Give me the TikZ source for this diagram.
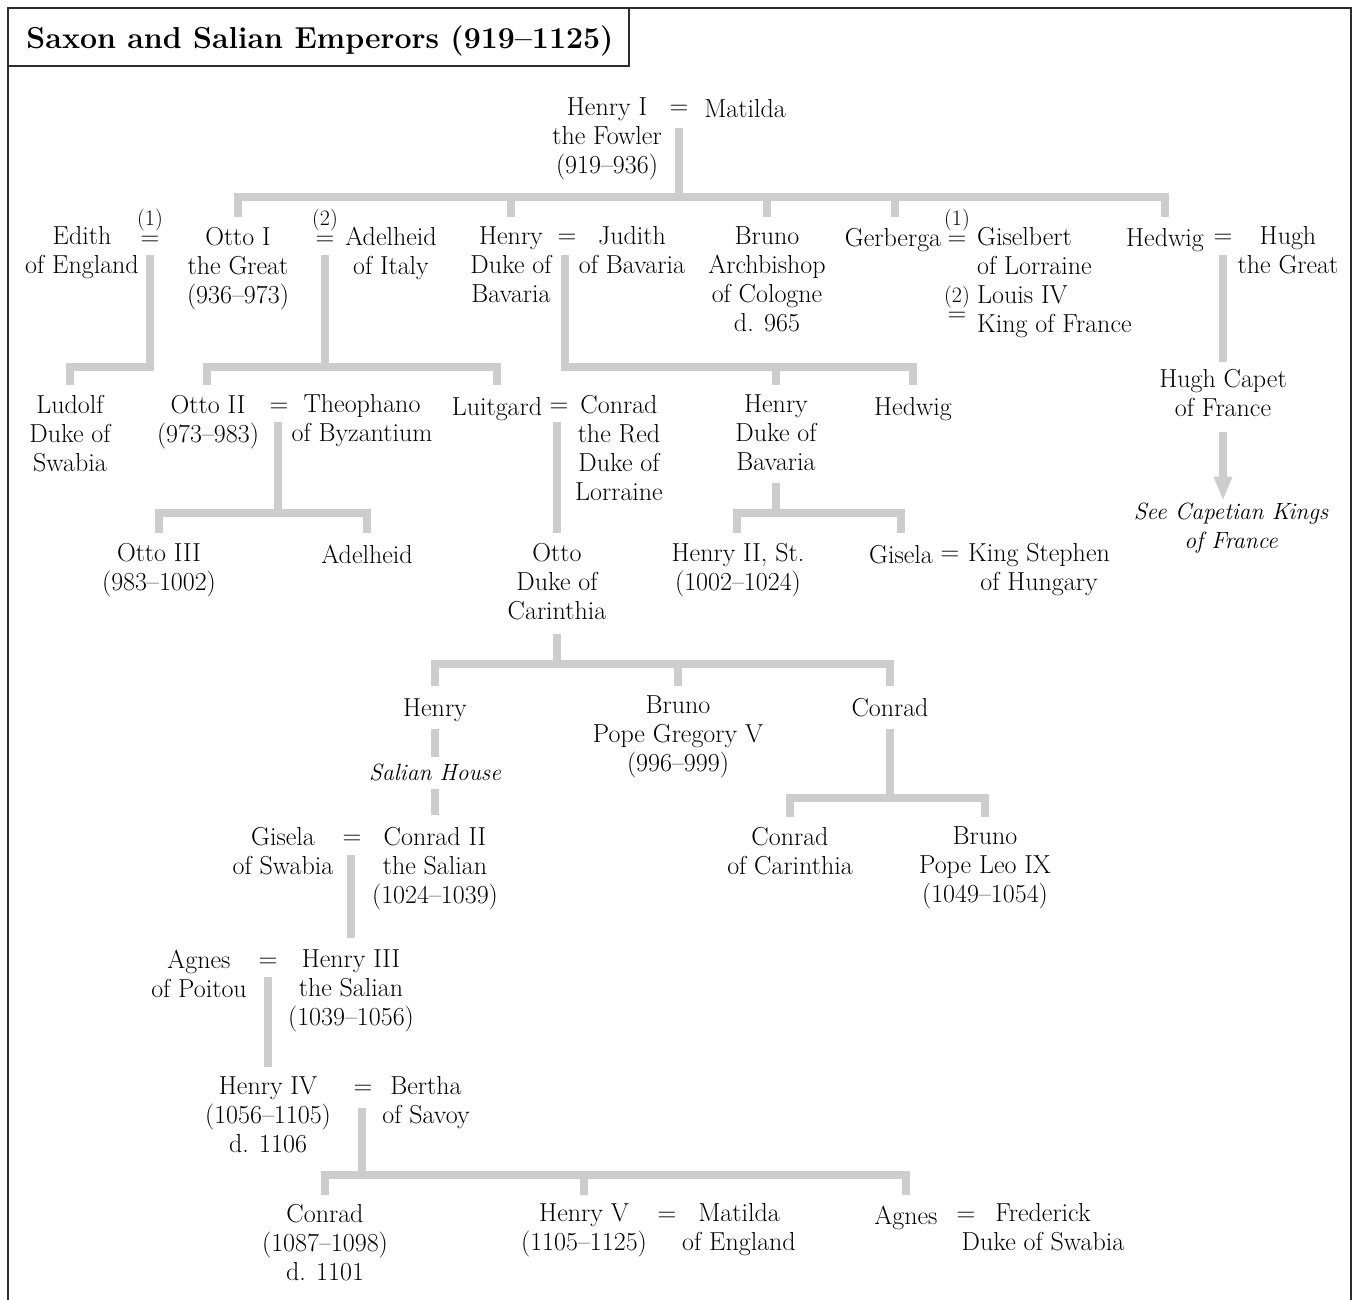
\documentclass[tikz,border=0pt]{standalone}
\usepackage{fontspec}
\usetikzlibrary{arrows.meta}
\definecolor{bargray}{RGB}{205,205,205}
\definecolor{framegray}{RGB}{45,45,45}
\begin{document}
\begin{tikzpicture}[x=1pt,y=-1pt,
  bar/.style={draw=bargray, line width=7.5pt},
  person/.style={anchor=north, inner sep=0pt, align=center, font=\fontsize{26}{29}\selectfont, execute at begin node=\strut, yshift=20.3pt},
  personL/.style={person, anchor=north west, align=left},
  single/.style={anchor=base, inner sep=0pt, font=\fontsize{26}{29}\selectfont, execute at begin node=\strut},
  ital/.style={font=\fontsize{23.5}{29}\selectfont\itshape},
  eqs/.style={anchor=base, inner sep=0pt, font=\fontsize{26}{29}\selectfont},
  num/.style={anchor=base, inner sep=0pt, font=\fontsize{22}{25}\selectfont},
  frame/.style={draw=framegray, line width=1.6pt},
]
\useasboundingbox (0,0) rectangle (1353,1300);
% frame and title
\draw[frame] (8,1300) -- (8,8) -- (1351,8) -- (1351,1300);
\draw[frame] (8,66) -- (629,66) -- (629,8);
\node[anchor=base, inner sep=0pt, font=\fontsize{30.3}{36}\selectfont\bfseries] (title) at (320,49) {Saxon and Salian Emperors (919–1125)};

% Row 1
\node[person] (henryI) at (607,118) {Henry I\\the Fowler\\(919–936)};
\node[eqs] (e1) at (679,115) {=};
\node[single] (matildaI) at (745,118) {Matilda};

% Row 2
\node[person] (edith) at (82,247) {Edith\\of England};
\node[num] (n1) at (150,226) {(1)};
\node[eqs] (e2) at (150,245.5) {=};
\node[person] (ottoI) at (238,247) {Otto I\\the Great\\(936–973)};
\node[num] (n2) at (325,226) {(2)};
\node[eqs] (e3) at (325,245.5) {=};
\node[person] (adelheid) at (391,247) {Adelheid\\of Italy};
\node[person] (henryB) at (511,247) {Henry\\Duke of\\Bavaria};
\node[eqs] (e4) at (567,244) {=};
\node[person] (judith) at (632,247) {Judith\\of Bavaria};
\node[person] (brunoA) at (767,247) {Bruno\\Archbishop\\of Cologne\\d. 965};
\node[single] (gerberga) at (893,247) {Gerberga};
\node[num] (n3) at (957,226) {(1)};
\node[eqs] (e5) at (957,245.5) {=};
\node[personL] (giselbert) at (977,247) {Giselbert\\of Lorraine};
\node[num] (n4) at (957,302) {(2)};
\node[eqs] (e6) at (957,321) {=};
\node[personL] (louis) at (977,306) {Louis IV\\King of France};
\node[single] (hedwigA) at (1165,247) {Hedwig};
\node[eqs] (e7) at (1223,244) {=};
\node[person] (hugh) at (1288,247) {Hugh\\the Great};
\node[person] (hughC) at (1223,389) {Hugh Capet\\of France};
\node[person, ital] (see) at (1231,523) {See Capetian Kings\\of France};

% Row 3
\node[person] (ludolf) at (70,415) {Ludolf\\Duke of\\Swabia};
\node[person] (ottoII) at (208,415) {Otto II\\(973–983)};
\node[eqs] (e8) at (279,412) {=};
\node[person] (theophano) at (362,415) {Theophano\\of Byzantium};
\node[single] (luitgard) at (497,415) {Luitgard};
\node[eqs] (e9) at (559,412) {=};
\node[person] (conradR) at (619,415) {Conrad\\the Red\\Duke of\\Lorraine};
\node[person] (henryB2) at (776,415) {Henry\\Duke of\\Bavaria};
\node[single] (hedwigB) at (913,415) {Hedwig};

% Row 4
\node[person] (ottoIII) at (159,563) {Otto III\\(983–1002)};
\node[single] (adelheidB) at (367,563) {Adelheid};
\node[person] (ottoC) at (557,563) {Otto\\Duke of\\Carinthia};
\node[person] (henryII) at (738,563) {Henry II, St.\\(1002–1024)};
\node[single] (gisela) at (901,563) {Gisela};
\node[eqs] (e10) at (950,560) {=};
\node[person] (stephen) at (1039,563) {King Stephen\\of Hungary};

% Row 5
\node[single] (henryS) at (435,716) {Henry};
\node[single, ital] (salian) at (435,780) {Salian House};
\node[person] (brunoG) at (678,716) {Bruno\\Pope Gregory V\\(996–999)};
\node[single] (conradC) at (890,716) {Conrad};

% Row 6
\node[person] (giselaS) at (283,847) {Gisela\\of Swabia};
\node[eqs] (e11) at (352,844) {=};
\node[person] (conradII) at (435,847) {Conrad II\\the Salian\\(1024–1039)};
\node[person] (conradCar) at (790,847) {Conrad\\of Carinthia};
\node[person] (brunoL) at (985,847) {Bruno\\Pope Leo IX\\(1049–1054)};

% Row 7
\node[person] (agnesP) at (199,970) {Agnes\\of Poitou};
\node[eqs] (e12) at (268,967) {=};
\node[person] (henryIII) at (351,970) {Henry III\\the Salian\\(1039–1056)};

% Row 8
\node[person] (henryIV) at (268,1097) {Henry IV\\(1056–1105)\\d. 1106};
\node[eqs] (e13) at (363,1094) {=};
\node[person] (bertha) at (426,1097) {Bertha\\of Savoy};

% Row 9
\node[person] (conradD) at (325,1224) {Conrad\\(1087–1098)\\d. 1101};
\node[person] (henryV) at (584,1224) {Henry V\\(1105–1125)};
\node[eqs] (e14) at (667,1221) {=};
\node[person] (matildaE) at (739,1224) {Matilda\\of England};
\node[single] (agnesD) at (906,1224) {Agnes};
\node[eqs] (e15) at (966,1221) {=};
\node[person] (frederick) at (1043,1224) {Frederick\\Duke of Swabia};

% ---------- connectors ----------
% Henry I = Matilda
\coordinate (u1) at (679,128);
\coordinate (k1) at (679,197);
\draw[bar] (u1) -- (k1);
\draw[bar] ([yshift=9.5pt]ottoI.north) |- (k1) -| ([yshift=9.5pt]hedwigA.north);
\draw[bar] ([yshift=9.5pt]henryB.north) -- (henryB.north |- k1);
\draw[bar] ([yshift=9.5pt]brunoA.north) -- (brunoA.north |- k1);
\draw[bar] ([xshift=2pt,yshift=9.5pt]gerberga.north) -- ([xshift=2pt]gerberga.north |- k1);

% Edith = Otto I
\coordinate (u2) at (150,255);
\coordinate (k2) at (150,367);
\draw[bar] (u2) -- (k2) -| ([yshift=9.5pt]ludolf.north);

% Otto I = Adelheid
\coordinate (u3) at (325,255);
\coordinate (k3) at (325,367);
\draw[bar] (u3) -- (k3);
\draw[bar] ([xshift=-1pt,yshift=9.5pt]ottoII.north) |- (k3) -| ([yshift=9.5pt]luitgard.north);

% Henry = Judith
\coordinate (u4) at (565,255);
\coordinate (k4) at (565,367);
\draw[bar] (u4) -- (k4) -| ([yshift=9.5pt]hedwigB.north);
\draw[bar] ([yshift=9.5pt]henryB2.north) -- (henryB2.north |- k4);

% Hedwig = Hugh
\coordinate (u5) at (1223,255);
\draw[bar] (u5) -- ([yshift=7pt]hughC.north);
\draw[bar, -{Triangle[length=24pt,width=17pt]}] ([yshift=-7pt]hughC.south) -- ([yshift=2pt]see.north -| hughC.south);

% Otto II = Theophano
\coordinate (u6) at (278,422);
\coordinate (k6) at (278,513);
\draw[bar] (u6) -- (k6);
\draw[bar] ([yshift=9.5pt]ottoIII.north) |- (k6) -| ([yshift=9.5pt]adelheidB.north);

% Luitgard = Conrad
\coordinate (u7) at (557,422);
\draw[bar] (u7) -- ([yshift=9.5pt]ottoC.north);

% Henry Duke of Bavaria
\coordinate (u8) at (776,483);
\coordinate (k8) at (776,513);
\draw[bar] (u8) -- (k8);
\draw[bar] ([xshift=-1pt,yshift=9.5pt]henryII.north) |- (k8) -| ([yshift=9.5pt]gisela.north);

% Otto Duke of Carinthia
\coordinate (u9) at (557,634);
\coordinate (k9) at (557,664);
\draw[bar] (u9) -- (k9);
\draw[bar] ([yshift=9.5pt]henryS.north) |- (k9) -| ([yshift=9.5pt]conradC.north);
\draw[bar] ([yshift=9.5pt]brunoG.north) -- (brunoG.north |- k9);

% Henry -> Salian House -> Conrad II
\draw[bar] ([yshift=-4pt]henryS.south) -- ([yshift=3pt]salian.north);
\draw[bar] ([yshift=0pt]salian.south) -- ([yshift=12pt]conradII.north);

% Conrad -> children
\coordinate (u10) at (890,729);
\coordinate (k10) at (890,798);
\draw[bar] (u10) -- (k10);
\draw[bar] ([yshift=9.5pt]conradCar.north) |- (k10) -| ([yshift=9.5pt]brunoL.north);

% Gisela = Conrad II
\coordinate (u11) at (351,855);
\draw[bar] (u11) -- ([yshift=12pt]henryIII.north -| u11);

% Agnes = Henry III
\coordinate (u12) at (268,977);
\draw[bar] (u12) -- ([yshift=10pt]henryIV.north);

% Henry IV = Bertha
\coordinate (u13) at (362,1108);
\coordinate (k13) at (362,1175);
\draw[bar] (u13) -- (k13);
\draw[bar] ([yshift=9pt]conradD.north) |- (k13) -| ([yshift=9pt]agnesD.north);
\draw[bar] ([yshift=9pt]henryV.north) -- (henryV.north |- k13);
\end{tikzpicture}
\end{document}
